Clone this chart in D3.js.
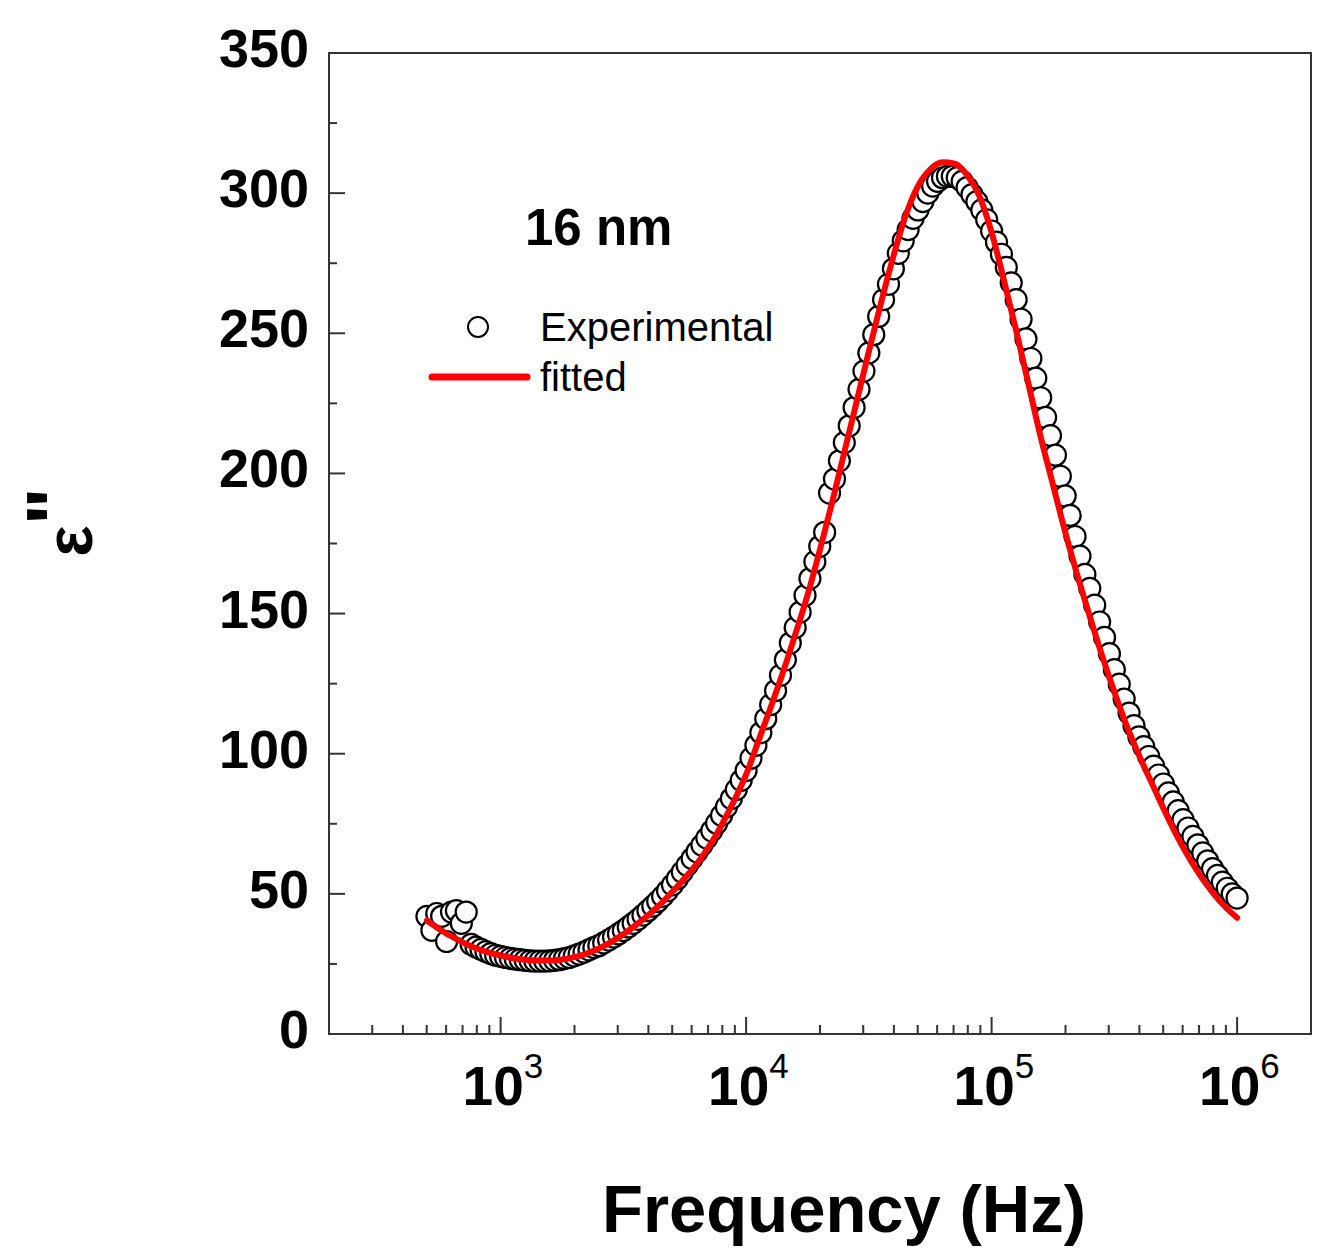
<!DOCTYPE html>
<html>
<head>
<meta charset="utf-8">
<script src="https://cdn.jsdelivr.net/npm/d3@7"></script>
<style>
  body { margin: 0; background: #fff; }
  svg { display: block; font-family: "Liberation Sans", Arial, sans-serif; }
</style>
</head>
<body>
<div id="chart"></div>
<script>
// measured points (Hz, eps'')
var expFreq = [501.2, 524.8, 549.5, 575.4, 602.6, 631.0, 660.7, 691.8, 724.4, 758.6,
  794.3, 831.8, 871.0, 912.0, 955.0,
  1000, 1047, 1096, 1148, 1202, 1259, 1318, 1380, 1445, 1514, 1585, 1660, 1738, 1820, 1905,
  1995, 2089, 2188, 2291, 2399, 2512, 2630, 2754, 2884, 3020, 3162, 3311, 3467, 3631, 3802,
  3981, 4169, 4365, 4571, 4786, 5012, 5248, 5495, 5754, 6026, 6310, 6607, 6918, 7244, 7586,
  7943, 8318, 8710, 9120, 9550,
  10000, 10471, 10965, 11482, 12023, 12589, 13183, 13804, 14454, 15136, 15849, 16596, 17378, 18197, 19055,
  19953, 20893, 21878, 22909, 23988, 25119, 26303, 27542, 28840, 30200, 31623, 33113, 34674, 36308, 38019,
  39811, 41687, 43652, 45709, 47863, 50119, 52481, 54954, 57544, 60256, 63096, 66069, 69183, 72444, 75858,
  79433, 83176, 87096, 91201, 95499,
  100000, 104713, 109648, 114815, 120226, 125893, 131826, 138038, 144544, 151356, 158489, 165959, 173780, 181970, 190546,
  199526, 208930, 218776, 229087, 239883, 251189, 263027, 275423, 288403, 301995, 316228, 331131, 346737, 363078, 380189,
  398107, 416869, 436516, 457088, 478630, 501187, 524807, 549541, 575440, 602560, 630957, 660693, 691831, 724436, 758578,
  794328, 831764, 870964, 912011, 954993,
  1000000];
var expEps = [42, 37, 43, 42, 33, 43.5, 44, 39.5, 43.5, 32,
  31.0, 30.2, 29.4, 28.7, 28.1,
  27.7, 27.3, 27.0, 26.7, 26.5, 26.3, 26.1, 26.0, 26.0, 26.0, 26.1, 26.3, 26.5, 26.9, 27.3,
  27.9, 28.5, 29.2, 30.0, 30.8, 31.5, 32.5, 33.5, 34.6, 35.7, 36.9, 38.2, 39.5, 40.9, 42.4,
  44.0, 45.6, 47.3, 49.1, 51.1, 53.2, 55.4, 57.8, 60.2, 62.6, 65.0, 67.4, 69.9, 72.5, 75.2,
  78.0, 81.0, 84.0, 87.2, 90.5,
  94.0, 98.4, 103, 107.5, 112.5, 117.5, 122.5, 128, 133.5, 139.5, 145, 150.5, 156.5, 162.5, 168.5,
  174, 179, 193, 198, 204.5, 211, 217, 223.5, 230, 236.5, 243, 249.5, 256, 262, 267.5,
  273, 278.5, 283, 287, 291, 294, 297, 300, 302.5, 304.2, 305.5, 306, 306, 305.5, 304.2,
  302, 299.5, 297, 294, 290.5,
  286.5, 282.5, 278.2, 273.5, 268, 262, 255, 248, 241, 234, 227, 220, 213.5, 206.5, 199,
  192, 185, 177.5, 170.5, 164, 159, 153, 147, 141.5, 135.7, 130, 124.8, 119.5, 114.5, 110,
  106, 102.5, 99, 95.6, 92.4, 89.2, 86, 82.8, 79.7, 76.5, 73.5, 70.5, 67.5, 64.6, 61.8,
  59, 56.6, 54.2, 52, 50,
  48.5];

// fitted curve
var fitFreq = [501, 562, 631, 708, 794, 891,
  1000, 1122, 1259, 1413, 1585, 1778, 1995, 2239, 2512, 2818, 3162, 3548, 3981, 4467, 5012, 5623, 6310, 7079, 7943, 8913,
  10000, 11220, 12589, 14125, 15849, 17783, 19953, 22387, 25119, 28184, 31623, 35481, 39811, 44668, 50119, 56234, 63096, 70795, 79433, 89125,
  100000, 112202, 125893, 141254, 158489, 177828, 199526, 223872, 251189, 281838, 316228, 354813, 398107, 446684, 501187, 562341, 630957, 707946, 794328, 891251,
  1000000];
var fitEps = [40.5, 37.5, 34.8, 32.5, 30.6, 29.1,
  28.0, 27.1, 26.5, 26.2, 26.2, 26.6, 27.4, 28.7, 30.5, 32.8, 35.6, 38.8, 42.3, 46.2, 50.8, 55.6, 60.8, 67, 74.5, 83,
  92.5, 104.5, 116.5, 129, 142.5, 156.5, 172.5, 189.5, 207.5, 225.5, 243.5, 261, 277.5, 292, 302.5, 308.5, 311, 310.5, 306.5, 299,
  286, 269, 251, 232, 213, 196, 179, 163.5, 149, 135, 122, 110, 99.5, 90, 80.5, 71.5, 63.5, 56.5, 50.5, 45.5,
  41.5];

var xMajor = [1e3, 1e4, 1e5, 1e6];
var xExponents = ["3", "4", "5", "6"];
var yMajor = [0, 50, 100, 150, 200, 250, 300, 350];
var yMinor = [25, 75, 125, 175, 225, 275, 325];

drawChart();

function drawChart () {
  var width = 1322, height = 1251;
  var pl = 329, pr = 1311, pt = 53, pb = 1034;

  var svg = d3.select("#chart").append("svg")
    .attr("width", width)
    .attr("height", height);

  var x = d3.scaleLog().domain([200, 2e6]).range([pl, pr]);
  var y = d3.scaleLinear().domain([0, 350]).range([pb, pt]);

  var xMinor = x.ticks().filter(function (d) { return xMajor.indexOf(d) < 0; });

  // frame
  svg.append("rect")
    .attr("x", pl).attr("y", pt)
    .attr("width", pr - pl).attr("height", pb - pt)
    .attr("fill", "none")
    .attr("stroke", "#333")
    .attr("stroke-width", 2);

  // ticks point inward
  var axisG = svg.append("g").attr("stroke", "#333").attr("stroke-width", 2);
  axisG.selectAll(".xmaj").data(xMajor).enter().append("line")
    .attr("x1", function (d) { return x(d); }).attr("x2", function (d) { return x(d); })
    .attr("y1", pb).attr("y2", pb - 17);
  axisG.selectAll(".xmin").data(xMinor).enter().append("line")
    .attr("x1", function (d) { return x(d); }).attr("x2", function (d) { return x(d); })
    .attr("y1", pb).attr("y2", pb - 9);
  axisG.selectAll(".ymaj").data(yMajor).enter().append("line")
    .attr("x1", pl).attr("x2", pl + 16)
    .attr("y1", function (d) { return y(d); }).attr("y2", function (d) { return y(d); });
  axisG.selectAll(".ymin").data(yMinor).enter().append("line")
    .attr("x1", pl).attr("x2", pl + 8)
    .attr("y1", function (d) { return y(d); }).attr("y2", function (d) { return y(d); });

  // y tick labels
  svg.selectAll(".ylab").data(yMajor).enter().append("text")
    .attr("x", 309)
    .attr("y", function (d) { return y(d) + 14; })
    .attr("text-anchor", "end")
    .attr("font-size", 54)
    .attr("font-weight", "bold")
    .text(function (d) { return d; });

  // x tick labels, 10^n
  var xl = svg.selectAll(".xlab").data(xMajor).enter().append("text")
    .attr("x", function (d) { return x(d) - 38; })
    .attr("y", 1105)
    .attr("font-size", 55)
    .attr("font-weight", "bold");
  xl.append("tspan").text("10");
  xl.append("tspan")
    .attr("dy", -27)
    .attr("font-size", 35)
    .attr("font-weight", "normal")
    .text(function (d, i) { return xExponents[i]; });

  // experimental points
  svg.append("g").selectAll("circle").data(d3.zip(expFreq, expEps)).enter().append("circle")
    .attr("cx", function (d) { return x(d[0]); })
    .attr("cy", function (d) { return y(d[1]); })
    .attr("r", 10.5)
    .attr("fill", "#fff")
    .attr("stroke", "#000")
    .attr("stroke-width", 2.2);

  // fitted line
  var line = d3.line()
    .x(function (d) { return x(d[0]); })
    .y(function (d) { return y(d[1]); })
    .curve(d3.curveMonotoneX);
  svg.append("path")
    .datum(d3.zip(fitFreq, fitEps))
    .attr("d", line)
    .attr("fill", "none")
    .attr("stroke", "#ff0000")
    .attr("stroke-width", 6)
    .attr("stroke-linecap", "round");

  // annotation + legend
  svg.append("text")
    .attr("x", 525).attr("y", 245)
    .attr("font-size", 51).attr("font-weight", "bold")
    .text("16 nm");

  svg.append("circle")
    .attr("cx", 478).attr("cy", 327).attr("r", 10)
    .attr("fill", "#fff").attr("stroke", "#000").attr("stroke-width", 2);
  svg.append("text")
    .attr("x", 540).attr("y", 341)
    .attr("font-size", 40)
    .text("Experimental");
  svg.append("line")
    .attr("x1", 432).attr("x2", 527).attr("y1", 377).attr("y2", 377)
    .attr("stroke", "#ff0000").attr("stroke-width", 7).attr("stroke-linecap", "round");
  svg.append("text")
    .attr("x", 540).attr("y", 391)
    .attr("font-size", 40)
    .text("fitted");

  // axis titles
  svg.append("text")
    .attr("x", 844).attr("y", 1232)
    .attr("text-anchor", "middle")
    .attr("font-size", 67).attr("font-weight", "bold")
    .text("Frequency (Hz)");

  var yt = svg.append("text")
    .attr("transform", "translate(92,522) rotate(-90)")
    .attr("text-anchor", "middle")
    .attr("font-size", 66).attr("font-weight", "bold");
  yt.append("tspan").text("\u03b5");
  yt.append("tspan").attr("font-size", 80).attr("dy", -10).text("\"");
}
</script>
</body>
</html>
